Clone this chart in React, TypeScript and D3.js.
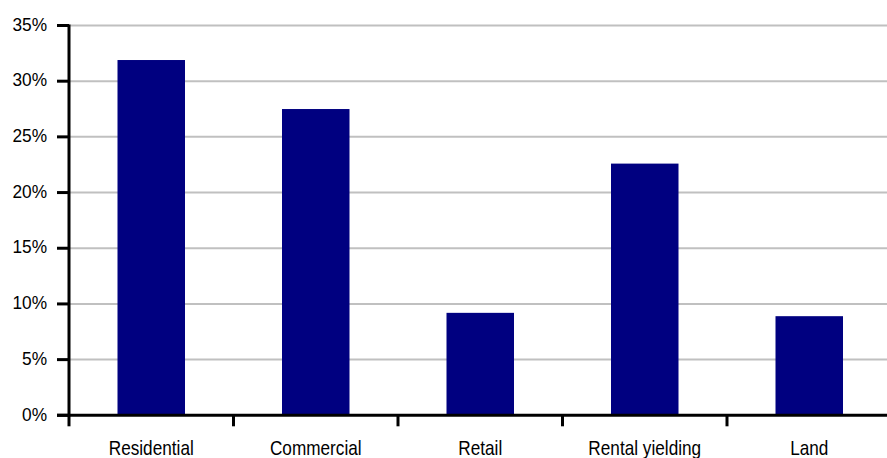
import React, { useEffect, useRef } from "react";
import * as d3 from "d3";

const categories = ["Residential", "Commercial", "Retail", "Rental yielding", "Land"];
const values = [31.9, 27.5, 9.2, 22.6, 8.9];
const yTicks = [0, 5, 10, 15, 20, 25, 30, 35];

const W = 887;
const H = 458;
const FONT = "'Liberation Sans', Arial, sans-serif";

export default function App() {
  const ref = useRef<SVGSVGElement | null>(null);

  useEffect(() => {
    document.body.style.margin = "0";
    const svg = d3.select(ref.current);
    svg.selectAll("*").remove();

    const x0 = 69;
    const bandW = 164.5;
    const x = d3
      .scaleBand<string>()
      .domain(categories)
      .range([x0, x0 + bandW * categories.length])
      .padding(0);
    const y = d3.scaleLinear().domain([0, 35]).range([415.3, 25.5]);

    // gridlines
    svg
      .append("g")
      .selectAll("line")
      .data(yTicks.filter((t) => t > 0))
      .join("line")
      .attr("x1", x0)
      .attr("x2", W)
      .attr("y1", (d) => y(d))
      .attr("y2", (d) => y(d))
      .attr("stroke", "#c0c0c0")
      .attr("stroke-width", 2);

    // bars
    const barW = 67.5;
    svg
      .append("g")
      .selectAll("rect")
      .data(values)
      .join("rect")
      .attr("x", (_, i) => (x(categories[i]) as number) + x.bandwidth() / 2 - barW / 2)
      .attr("width", barW)
      .attr("y", (d) => y(d))
      .attr("height", (d) => y(0) - y(d))
      .attr("fill", "#000080");

    // y axis
    svg
      .append("line")
      .attr("x1", x0)
      .attr("x2", x0)
      .attr("y1", y(35) - 1)
      .attr("y2", y(0) + 1)
      .attr("stroke", "#000")
      .attr("stroke-width", 3);
    const yt = svg.append("g");
    yt.selectAll("line")
      .data(yTicks)
      .join("line")
      .attr("x1", 57)
      .attr("x2", x0)
      .attr("y1", (d) => y(d))
      .attr("y2", (d) => y(d))
      .attr("stroke", "#000")
      .attr("stroke-width", 3);
    yt.selectAll("text")
      .data(yTicks)
      .join("text")
      .attr("transform", (d) => `translate(47,${y(d) + 5.2}) scale(0.91,1)`)
      .attr("text-anchor", "end")
      .attr("font-family", FONT)
      .attr("font-size", 19)
      .attr("fill", "#000")
      .text((d) => `${d}%`);

    // x axis
    svg
      .append("line")
      .attr("x1", x0 - 12)
      .attr("x2", W)
      .attr("y1", y(0))
      .attr("y2", y(0))
      .attr("stroke", "#000")
      .attr("stroke-width", 3);
    const xt = svg.append("g");
    xt.selectAll("line")
      .data(categories)
      .join("line")
      .attr("x1", (d) => x(d) as number)
      .attr("x2", (d) => x(d) as number)
      .attr("y1", y(0))
      .attr("y2", y(0) + 11)
      .attr("stroke", "#000")
      .attr("stroke-width", 3);
    xt.selectAll("text")
      .data(categories)
      .join("text")
      .attr("transform", (d) => `translate(${(x(d) as number) + x.bandwidth() / 2},455) scale(0.86,1)`)
      .attr("text-anchor", "middle")
      .attr("font-family", FONT)
      .attr("font-size", 20)
      .attr("fill", "#000")
      .text((d) => d);
  }, []);

  return <svg ref={ref} width={W} height={H} style={{ display: "block", background: "#fff" }} />;
}
